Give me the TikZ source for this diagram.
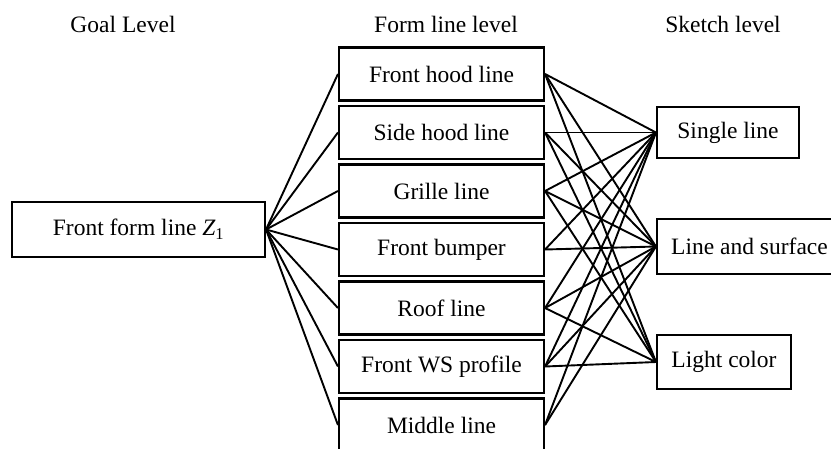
\documentclass[tikz,border=0pt]{standalone}
\usepackage{fontspec}
\setmainfont{Liberation Serif}
\begin{document}
\begin{tikzpicture}[x=1pt,y=-1pt,
  box/.style={draw,line width=2.1pt,inner sep=0pt,minimum height=53pt,
    font=\fontsize{23.5}{28}\selectfont},
  midbox/.style={box,minimum width=205pt},
  head/.style={font=\fontsize{23.5}{28}\selectfont},
  conn/.style={line width=1.9pt}]
  \useasboundingbox (0,0) rectangle (831,448);
  % level titles
  \node[head] (tgoal) at (123,24) {Goal Level};
  \node[head] (tform) at (446,24) {Form line level};
  \node[head] (tsketch) at (723,24) {Sketch level};
  % goal level
  \node[box,minimum width=253pt,minimum height=55pt] (goal) at (138.5,229.5) {Front form line {\itshape Z}\textsubscript{1}};
  % form line level
  \node[midbox] (fhood) at (441.5,74) {Front hood line};
  \node[midbox] (shood) at (441.5,132.5) {Side hood line};
  \node[midbox] (grille) at (441.5,191) {Grille line};
  \node[midbox] (bumper) at (441.5,249.5) {Front bumper};
  \node[midbox] (roof) at (441.5,308) {Roof line};
  \node[midbox] (wsprof) at (441.5,366.5) {Front WS profile};
  \node[midbox] (middle) at (441.5,425) {Middle line};
  % sketch level
  \node[box,minimum width=142pt,minimum height=51pt] (single) at (728,132.5) {Single line};
  \node[box,minimum width=185pt,minimum height=55pt] (linesurf) at (749.5,246.5) {Line and surface};
  \node[box,minimum width=134pt,minimum height=54pt] (lightcol) at (724,362) {Light color};
  % goal to form lines
  \draw[conn] (goal.east) -- (fhood.west);
  \draw[conn] (goal.east) -- (shood.west);
  \draw[conn] (goal.east) -- (grille.west);
  \draw[conn] (goal.east) -- (bumper.west);
  \draw[conn] (goal.east) -- (roof.west);
  \draw[conn] (goal.east) -- (wsprof.west);
  \draw[conn] (goal.east) -- (middle.west);
  % form lines to sketch
  \draw[conn] (fhood.east) -- (single.west);
  \draw[conn] (fhood.east) -- (linesurf.west);
  \draw[conn] (fhood.east) -- (lightcol.west);
  \draw[conn] (shood.east) -- (single.west);
  \draw[conn] (shood.east) -- (linesurf.west);
  \draw[conn] (shood.east) -- (lightcol.west);
  \draw[conn] (grille.east) -- (single.west);
  \draw[conn] (grille.east) -- (linesurf.west);
  \draw[conn] (grille.east) -- (lightcol.west);
  \draw[conn] (bumper.east) -- (single.west);
  \draw[conn] (bumper.east) -- (linesurf.west);
  \draw[conn] (roof.east) -- (single.west);
  \draw[conn] (roof.east) -- (linesurf.west);
  \draw[conn] (roof.east) -- (lightcol.west);
  \draw[conn] (wsprof.east) -- (single.west);
  \draw[conn] (wsprof.east) -- (linesurf.west);
  \draw[conn] (wsprof.east) -- (lightcol.west);
  \draw[conn] (middle.east) -- (single.west);
  \draw[conn] (middle.east) -- (linesurf.west);
\end{tikzpicture}
\end{document}
